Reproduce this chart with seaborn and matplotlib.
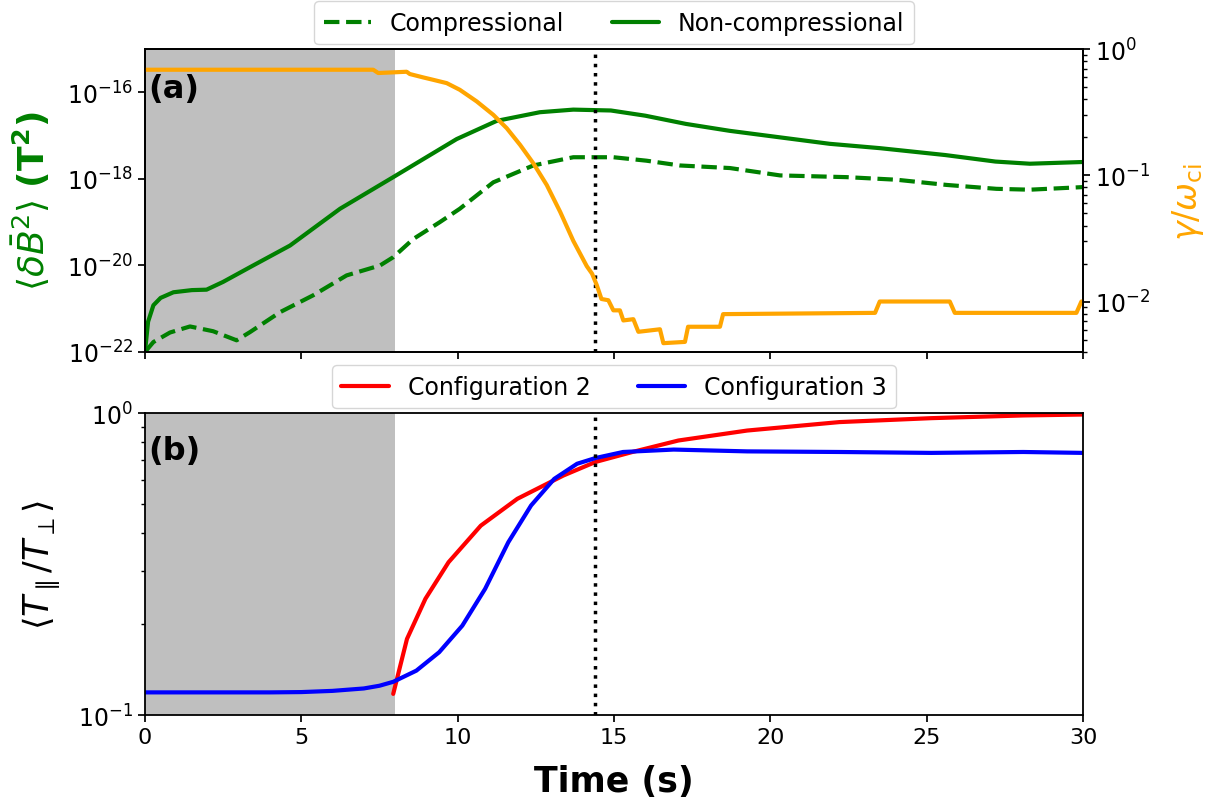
import numpy as np
import pandas as pd
import matplotlib
matplotlib.use("Agg")
import matplotlib.pyplot as plt
import seaborn as sns
from matplotlib.ticker import NullLocator, NullFormatter, LogLocator

# ---------------- data ----------------
# Panel (a): magnetic fluctuation energy, log10 of <dB^2> in T^2
t_noncomp = [0.0, 0.1, 0.27, 0.5, 0.91, 1.5, 1.97, 2.5, 3.36, 4.64, 6.24, 7.94,
             9.97, 11.25, 12.63, 13.7, 14.9, 16.0, 17.3, 18.7, 20.3, 21.9,
             23.5, 25.6, 27.2, 28.3, 30.0]
log_noncomp = [-22.0, -21.3, -20.92, -20.75, -20.62, -20.57, -20.56, -20.38,
               -20.04, -19.54, -18.69, -17.96, -17.08, -16.66, -16.46, -16.40,
               -16.42, -16.54, -16.73, -16.89, -17.04, -17.19, -17.29, -17.45,
               -17.60, -17.65, -17.61]

t_comp = [0.0, 0.27, 0.8, 1.44, 2.18, 2.93, 3.36, 4.32, 5.38, 6.45, 7.52, 7.94,
          8.58, 9.43, 10.07, 11.14, 12.42, 13.7, 14.98, 16.04, 17.1, 18.71,
          20.31, 22.44, 24.04, 25.64, 27.23, 28.3, 30.0]
log_comp = [-22.0, -21.77, -21.55, -21.41, -21.52, -21.73, -21.54, -21.08,
            -20.69, -20.23, -20.00, -19.81, -19.39, -19.0, -18.69, -18.08,
            -17.69, -17.50, -17.50, -17.58, -17.69, -17.75, -17.92, -17.96,
            -18.02, -18.14, -18.23, -18.25, -18.19]

# Panel (a), right axis: growth rate gamma/omega_ci (log10)
t_growth = [0.0, 7.3, 7.46, 8.37, 8.47, 8.9, 9.22, 9.65, 10.07, 10.61, 11.14,
            11.57, 12.0, 12.42, 12.85, 13.28, 13.7, 14.13, 14.3, 14.45, 14.6,
            14.82, 14.98, 15.19, 15.3, 15.62, 15.78, 16.47, 16.58, 17.27,
            17.37, 18.39, 18.49, 23.35, 23.5, 25.74, 25.9, 29.79, 29.95, 30.0]
log_growth = [-0.164, -0.164, -0.19, -0.18, -0.198, -0.225, -0.244, -0.27,
              -0.323, -0.415, -0.521, -0.627, -0.76, -0.905, -1.077, -1.29,
              -1.52, -1.72, -1.78, -1.87, -1.98, -1.99, -2.07, -2.07, -2.15,
              -2.14, -2.24, -2.22, -2.33, -2.32, -2.20, -2.20, -2.10, -2.09,
              -2.00, -2.00, -2.09, -2.09, -2.00, -2.00]

# Panel (b): temperature anisotropy <T_par/T_perp> (log10)
t_conf2 = [7.94, 8.38, 8.97, 9.71, 10.74, 11.91, 13.38, 14.41, 15.59, 17.06,
           19.26, 22.21, 25.15, 28.09, 30.0]
log_conf2 = [-0.930, -0.748, -0.615, -0.494, -0.373, -0.284, -0.207, -0.162,
             -0.129, -0.091, -0.058, -0.030, -0.017, -0.008, -0.005]

t_conf3 = [0.0, 2.0, 4.0, 5.0, 6.0, 7.0, 7.5, 7.94, 8.68, 9.41, 10.15, 10.88,
           11.62, 12.35, 13.09, 13.82, 14.41, 15.29, 16.91, 19.26, 22.21,
           25.15, 28.09, 30.0]
log_conf3 = [-0.925, -0.925, -0.925, -0.924, -0.92, -0.912, -0.903, -0.890,
             -0.853, -0.792, -0.704, -0.582, -0.428, -0.306, -0.218, -0.168,
             -0.149, -0.129, -0.121, -0.127, -0.129, -0.132, -0.129, -0.132]

shade_start, shade_end = 0.0, 8.0
t_marker = 14.39

x_ticks = [0, 5, 10, 15, 20, 25, 30]
a_left_ticks = [1e-22, 1e-20, 1e-18, 1e-16]

labels_a = ["Compressional", "Non-compressional"]
labels_b = ["Configuration 2", "Configuration 3"]

# ---------------- style ----------------
sns.set_theme(style="ticks", rc={
    "axes.edgecolor": "black", "xtick.color": "black", "ytick.color": "black",
    "text.color": "black", "axes.labelcolor": "black",
    "axes.linewidth": 1.3,
})
plt.rcParams["font.family"] = ["DejaVu Sans"]
plt.rcParams["mathtext.fontset"] = "dejavusans"

fig = plt.figure(figsize=(12.08, 8.03), dpi=100)
ax1 = fig.add_axes([0.1200, 0.5604, 0.7765, 0.3773])
ax2 = fig.add_axes([0.1200, 0.1083, 0.7765, 0.3761])

df_comp = pd.DataFrame({"t": t_comp, "v": 10.0 ** np.array(log_comp)})
df_nc = pd.DataFrame({"t": t_noncomp, "v": 10.0 ** np.array(log_noncomp)})
df_g = pd.DataFrame({"t": t_growth, "v": 10.0 ** np.array(log_growth)})
df_c2 = pd.DataFrame({"t": t_conf2, "v": 10.0 ** np.array(log_conf2)})
df_c3 = pd.DataFrame({"t": t_conf3, "v": 10.0 ** np.array(log_conf3)})

YT = 17
XT = 16
LEG = 17

# ---- panel (a)
ax1.set_yscale("log")
ax1.axvspan(shade_start, shade_end, color="#bfbfbf", lw=0, zorder=0)
sns.lineplot(data=df_comp, x="t", y="v", ax=ax1, color="green", lw=3,
             linestyle="--", label=labels_a[0], sort=False)
sns.lineplot(data=df_nc, x="t", y="v", ax=ax1, color="green", lw=3,
             label=labels_a[1], sort=False)
ax1.axvline(t_marker, color="black", linestyle=":", lw=2.5)
ax1.set_xlim(0, 30)
ax1.set_ylim(1e-22, 1e-15)
ax1.set_yticks(a_left_ticks)
ax1.yaxis.set_minor_locator(NullLocator())
ax1.set_xticks(x_ticks)
ax1.tick_params(axis="y", labelsize=YT, length=5)
ax1.tick_params(axis="x", labelbottom=False, length=5)
ax1.set_xlabel("")
ax1.set_ylabel(r"$\langle \delta\bar{B}^2 \rangle$ $\mathbf{(T^2)}$",
               color="green", fontsize=26)
ax1.text(0.004, 0.87, "(a)", transform=ax1.transAxes, fontsize=23,
         fontweight="bold", va="center", ha="left", zorder=5)

ax1b = ax1.twinx()
ax1b.set_yscale("log")
sns.lineplot(data=df_g, x="t", y="v", ax=ax1b, color="orange", lw=3,
             sort=False, legend=False)
ax1b.set_ylim(10 ** -2.4, 1.0)
ax1b.set_xlim(0, 30)
ax1b.yaxis.set_minor_locator(LogLocator(base=10, subs=np.arange(2, 10)))
ax1b.yaxis.set_minor_formatter(NullFormatter())
ax1b.tick_params(labelsize=YT, length=5)
ax1b.tick_params(which="minor", length=3)
ax1b.set_ylabel(r"$\gamma/\omega_{\rm ci}$", color="orange", fontsize=24)
ax1b.set_xlabel("")

h, l = ax1.get_legend_handles_labels()
if ax1.get_legend() is not None:
    ax1.get_legend().remove()
ax1b.legend(h, l, loc="lower center", bbox_to_anchor=(0.5, 1.0), ncol=2,
            fontsize=LEG, frameon=True, borderaxespad=0.2, columnspacing=2.0,
            handlelength=2.0)

# ---- panel (b)
ax2.set_yscale("log")
ax2.axvspan(shade_start, shade_end, color="#bfbfbf", lw=0, zorder=0)
sns.lineplot(data=df_c2, x="t", y="v", ax=ax2, color="red", lw=3,
             label=labels_b[0], sort=False)
sns.lineplot(data=df_c3, x="t", y="v", ax=ax2, color="blue", lw=3,
             label=labels_b[1], sort=False)
ax2.axvline(t_marker, color="black", linestyle=":", lw=2.5)
ax2.set_xlim(0, 30)
ax2.set_ylim(0.1, 1.0)
ax2.set_xticks(x_ticks)
ax2.set_yticks([0.1, 1.0])
ax2.yaxis.set_minor_locator(LogLocator(base=10, subs=np.arange(2, 10)))
ax2.yaxis.set_minor_formatter(NullFormatter())
ax2.tick_params(axis="y", labelsize=YT, length=5)
ax2.tick_params(axis="x", labelsize=XT, length=5)
ax2.tick_params(which="minor", length=3)
ax2.set_xlabel("Time (s)", fontsize=25, fontweight="bold", labelpad=12)
ax2.set_ylabel(r"$\langle T_\parallel/T_\perp \rangle$", fontsize=25)
ax2.legend(loc="lower center", bbox_to_anchor=(0.5, 1.0), ncol=2,
           fontsize=LEG, frameon=True, borderaxespad=0.2, columnspacing=2.0,
           handlelength=2.0)
ax2.text(0.004, 0.875, "(b)", transform=ax2.transAxes, fontsize=23,
         fontweight="bold", va="center", ha="left", zorder=5)

ax1.yaxis.set_label_coords(-0.099, 0.5)
ax2.yaxis.set_label_coords(-0.088, 0.5)
ax1b.yaxis.set_label_coords(1.093, 0.5)

fig.savefig("out.png", dpi=100)
